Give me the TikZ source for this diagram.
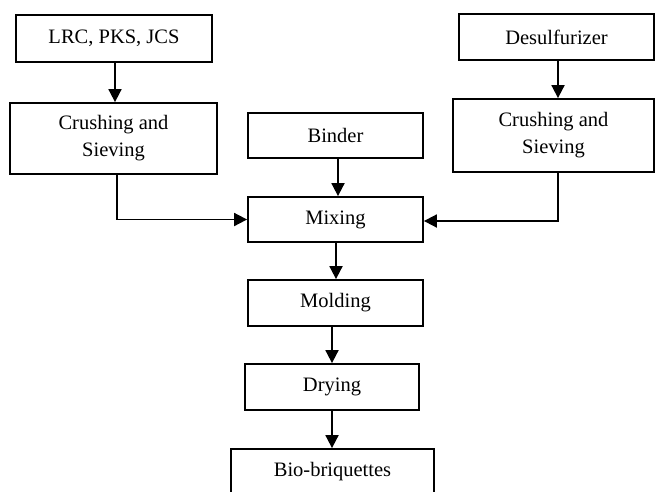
\documentclass[tikz,border=0pt]{standalone}
\usepackage{fontspec}
\setmainfont{Liberation Serif}
\usetikzlibrary{arrows.meta}
\tikzset{
  box/.style={draw, line width=1.8pt, align=center, inner sep=0pt,
    font=\fontsize{20.5}{27}\selectfont},
  arr/.style={line width=1.8pt, -{Triangle[length=13pt,width=13pt]}},
}
\begin{document}
\begin{tikzpicture}[x=1pt,y=-1pt]
\clip (0,0) rectangle (655,491);
\node[box, minimum width=196pt, minimum height=47pt] (lrc) at (114,38.5) {LRC, PKS, JCS};
\node[box, minimum width=207pt, minimum height=71pt] (cs1) at (113.5,138.5) {Crushing and\\Sieving};
\node[box, minimum width=175pt, minimum height=45pt] (binder) at (335.5,135.5) {Binder};
\node[box, minimum width=195pt, minimum height=46pt] (des) at (556.5,37) {Desulfurizer};
\node[box, minimum width=201pt, minimum height=73pt] (cs2) at (553.5,135.5) {Crushing and\\Sieving};
\node[box, minimum width=175pt, minimum height=45pt] (mix) at (335.5,219.5) {Mixing};
\node[box, minimum width=175pt, minimum height=46pt] (mold) at (335.5,303) {Molding};
\node[box, minimum width=174pt, minimum height=46pt] (dry) at (332,387) {Drying};
\node[box, minimum width=203pt, minimum height=46pt] (bio) at (332.5,472) {Bio-briquettes};
\draw[arr] ([xshift=1pt]lrc.south) -- ([xshift=1.5pt]cs1.north);
\draw[arr] ([xshift=1.5pt]des.south) -- ([xshift=4.5pt]cs2.north);
\draw[arr] ([xshift=3.5pt]cs1.south) |- (mix.west);
\draw[arr] ([xshift=4.5pt]cs2.south) |- ([yshift=-1.5pt]mix.east);
\draw[arr] ([xshift=2.5pt]binder.south) -- ([xshift=2.5pt]mix.north);
\draw[arr] ([xshift=0.5pt]mix.south) -- ([xshift=0.5pt]mold.north);
\draw[arr] ([xshift=-3.5pt]mold.south) -- (dry.north);
\draw[arr] (dry.south) -- ([xshift=-0.5pt]bio.north);
\end{tikzpicture}
\end{document}
